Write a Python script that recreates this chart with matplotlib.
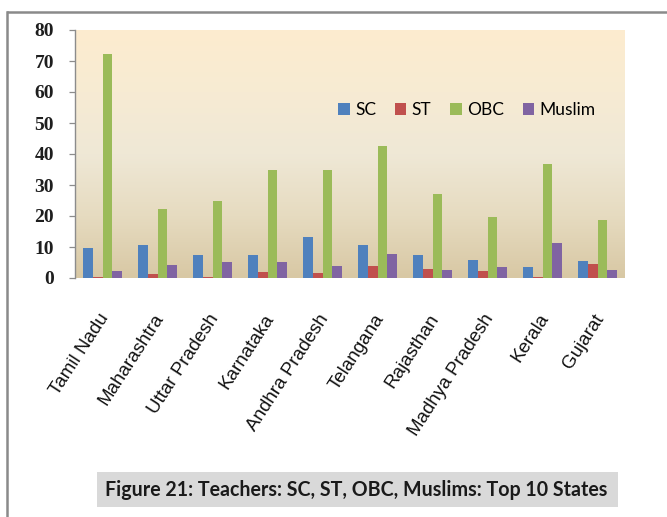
import numpy as np
import matplotlib
matplotlib.use("Agg")
import matplotlib.pyplot as plt
import matplotlib.transforms as mtransforms
from matplotlib.colors import LinearSegmentedColormap
from matplotlib.patches import Rectangle
from matplotlib.lines import Line2D

# ----------------------------------------------------------------------
# data (percent of teachers)
states = ["Tamil Nadu", "Maharashtra", "Uttar Pradesh", "Karnataka",
          "Andhra Pradesh", "Telangana", "Rajasthan", "Madhya Pradesh",
          "Kerala", "Gujarat"]
sc     = [9.8, 10.5, 7.5, 7.5, 13.3, 10.8, 7.3, 5.8, 3.4, 5.4]
st     = [0.3, 1.2, 0.2, 1.9, 1.6, 3.8, 3.0, 2.3, 0.4, 4.6]
obc    = [72.1, 22.1, 24.8, 34.9, 34.9, 42.5, 27.2, 19.8, 36.7, 18.7]
muslim = [2.4, 4.3, 5.2, 5.2, 4.0, 7.7, 2.7, 3.4, 11.3, 2.7]
series = [("SC", sc), ("ST", st), ("OBC", obc), ("Muslim", muslim)]
yticks = [0, 10, 20, 30, 40, 50, 60, 70, 80]
caption = "Figure 21: Teachers: SC, ST, OBC, Muslims: Top 10 States"

COLORS = ["#4F81BD", "#C0504D", "#9BBB59", "#8064A2"]
W, H = 667, 517

fig = plt.figure(figsize=(W / 100, H / 100), dpi=100)
# axes box in pixels: x 75..625, y 30..278 (from top)
ax = fig.add_axes([75 / W, 1 - 278 / H, 550 / W, 248 / H])

# background gradient (parchment-like)
grad = LinearSegmentedColormap.from_list(
    "parch", ["#D8C8A4", "#E6DBC0", "#EFE8D6", "#F7EBD3", "#FDECCF"])
ax.imshow(np.linspace(0, 1, 256).reshape(-1, 1), cmap=grad, aspect="auto",
          origin="lower", extent=(-0.5, len(states) - 0.5, 0, 80), zorder=0)

x = np.arange(len(states))
bw = 0.18
for i, ((name, vals), col) in enumerate(zip(series, COLORS)):
    ax.bar(x + (i - 1.5) * bw, vals, bw, color=col, label=name, zorder=2,
           linewidth=0)

ax.set_xlim(-0.5, len(states) - 0.5)
ax.set_ylim(0, 80)
ax.set_yticks(yticks)
ax.set_yticklabels([str(t) for t in yticks], family="Liberation Serif",
                   fontweight="bold", fontsize=14, color="#1E1E1E")
ax.tick_params(axis="y", length=4, width=0.9, color="#8C8C8C", pad=11,
               direction="out")
ax.set_xticks(x)
ax.set_xticklabels(states, rotation=57, ha="right", va="center",
                   rotation_mode="anchor", family="Liberation Sans",
                   fontsize=13.5, color="#111111")
ax.tick_params(axis="x", length=0, pad=27)
shift = mtransforms.ScaledTranslation(3 / 100, 0, fig.dpi_scale_trans)
for lab in ax.get_xticklabels():
    lab.set_transform(lab.get_transform() + shift)
for s in ["top", "right", "bottom"]:
    ax.spines[s].set_visible(False)
ax.spines["left"].set_color("#8C8C8C")
ax.spines["left"].set_linewidth(1.0)

leg = ax.legend(loc="center", bbox_to_anchor=(467 / W, 1 - 110 / H),
                bbox_transform=fig.transFigure, ncol=4, frameon=False,
                prop={"family": "Lato", "size": 12.5},
                handlelength=0.65, handleheight=0.65, handletextpad=0.3,
                columnspacing=1.1)

# outer frame lines (top and left)
fig.add_artist(Line2D([8 / W, 1], [1 - 12 / H] * 2, color="#8A8A8A",
                      lw=1.8, transform=fig.transFigure))
fig.add_artist(Line2D([7 / W] * 2, [0, 1 - 12 / H], color="#8A8A8A",
                      lw=1.8, transform=fig.transFigure))

# caption box
fig.add_artist(Rectangle((97 / W, 1 - 507 / H), 521 / W, 35 / H,
                         facecolor="#D9D9D9", edgecolor="none",
                         transform=fig.transFigure))
fig.text(356 / W, 1 - 490 / H, caption, ha="center", va="center",
         family="Lato", fontweight="bold", fontsize=14.1, color="#1A1A1A")

fig.savefig("out.png", dpi=100)
